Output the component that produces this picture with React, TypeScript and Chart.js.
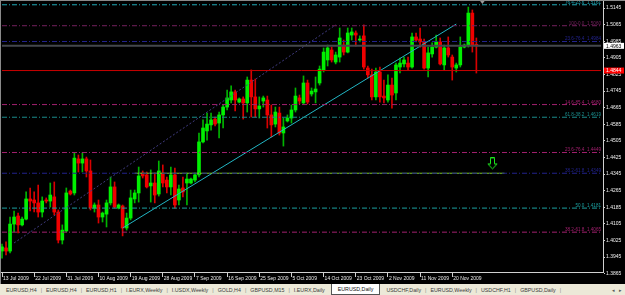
import React, { useEffect, useRef } from 'react';
import { Chart, registerables } from 'chart.js';

Chart.register(...registerables);

// ---------- data ----------
const startDate = '2009-07-13';
const slotCount = 150; // bars + empty space to the right (chart shift)

const opens = [
  1.3974, 1.3989, 1.3974, 1.4104, 1.4143, 1.4100, 1.4128, 1.4225, 1.4220, 1.4206,
  1.4162, 1.4220, 1.4215, 1.4235, 1.4162, 1.4027, 1.4071, 1.4263, 1.4254, 1.4418,
  1.4398, 1.4418, 1.4360, 1.4181, 1.4196, 1.4138, 1.4152, 1.4206, 1.4283, 1.4181,
  1.4191, 1.4085, 1.4133, 1.4225, 1.4254, 1.4350, 1.4341, 1.4288, 1.4302, 1.4249,
  1.4350, 1.4316, 1.4283, 1.4341, 1.4220, 1.4278, 1.4302, 1.4302, 1.4316, 1.4341,
  1.4500, 1.4553, 1.4582, 1.4610, 1.4591, 1.4630, 1.4668, 1.4702, 1.4741, 1.4692,
  1.4707, 1.4688, 1.4798, 1.4717, 1.4659, 1.4697, 1.4702, 1.4630, 1.4586, 1.4639,
  1.4543, 1.4601, 1.4615, 1.4654, 1.4712, 1.4688, 1.4784, 1.4731, 1.4741, 1.4784,
  1.4847, 1.4895, 1.4943, 1.4885, 1.4909, 1.4967, 1.4933, 1.5015, 1.5025, 1.4991,
  1.5011, 1.4856, 1.4823, 1.4717, 1.4837, 1.4721, 1.4702, 1.4774, 1.4736, 1.4861,
  1.4876, 1.4880, 1.4861, 1.5006, 1.4996, 1.4982, 1.4856, 1.4924, 1.4957, 1.4982,
  1.4871, 1.4953, 1.4909, 1.4856, 1.4871, 1.4957, 1.4967, 1.5121, 1.4970,
];
const highs = [
  1.4008, 1.4018, 1.4138, 1.4167, 1.4157, 1.4138, 1.4259, 1.4278, 1.4259, 1.4292,
  1.4235, 1.4230, 1.4302, 1.4307, 1.4172, 1.4100, 1.4278, 1.4268, 1.4447, 1.4437,
  1.4447, 1.4427, 1.4413, 1.4206, 1.4220, 1.4162, 1.4220, 1.4331, 1.4307, 1.4201,
  1.4196, 1.4157, 1.4268, 1.4268, 1.4379, 1.4360, 1.4355, 1.4365, 1.4350, 1.4408,
  1.4389, 1.4331, 1.4379, 1.4374, 1.4292, 1.4331, 1.4350, 1.4326, 1.4350, 1.4543,
  1.4606, 1.4639, 1.4639, 1.4620, 1.4644, 1.4678, 1.4750, 1.4770, 1.4750, 1.4712,
  1.4717, 1.4813, 1.4847, 1.4803, 1.4717, 1.4721, 1.4721, 1.4678, 1.4668, 1.4668,
  1.4615, 1.4630, 1.4678, 1.4760, 1.4726, 1.4818, 1.4798, 1.4760, 1.4813, 1.4866,
  1.4953, 1.4967, 1.4957, 1.4933, 1.5049, 1.4991, 1.5049, 1.5049, 1.5035, 1.5011,
  1.5064, 1.4866, 1.4851, 1.4856, 1.4861, 1.4798, 1.4823, 1.4808, 1.4880, 1.4904,
  1.4909, 1.4909, 1.5025, 1.5025, 1.5049, 1.4996, 1.4957, 1.4977, 1.5015, 1.5001,
  1.4967, 1.5006, 1.4919, 1.4880, 1.5006, 1.4972, 1.5150, 1.5136, 1.5001,
];
const lows = [
  1.3940, 1.3955, 1.3965, 1.4066, 1.4061, 1.4095, 1.4124, 1.4167, 1.4162, 1.4138,
  1.4138, 1.4206, 1.4186, 1.4148, 1.4013, 1.4008, 1.4066, 1.4244, 1.4244, 1.4355,
  1.4355, 1.4331, 1.4172, 1.4162, 1.4109, 1.4114, 1.4090, 1.4196, 1.4181, 1.4177,
  1.4047, 1.4075, 1.4124, 1.4206, 1.4210, 1.4326, 1.4278, 1.4210, 1.4206, 1.4239,
  1.4283, 1.4254, 1.4244, 1.4181, 1.4196, 1.4235, 1.4196, 1.4297, 1.4307, 1.4331,
  1.4495, 1.4509, 1.4557, 1.4577, 1.4519, 1.4567, 1.4654, 1.4688, 1.4649, 1.4688,
  1.4610, 1.4644, 1.4620, 1.4620, 1.4615, 1.4668, 1.4567, 1.4524, 1.4572, 1.4533,
  1.4480, 1.4596, 1.4591, 1.4644, 1.4683, 1.4683, 1.4683, 1.4721, 1.4688, 1.4774,
  1.4837, 1.4866, 1.4885, 1.4876, 1.4885, 1.4919, 1.4929, 1.4991, 1.4962, 1.4982,
  1.4851, 1.4808, 1.4702, 1.4702, 1.4692, 1.4688, 1.4692, 1.4663, 1.4702, 1.4832,
  1.4861, 1.4847, 1.4856, 1.4982, 1.4957, 1.4851, 1.4813, 1.4909, 1.4953, 1.4871,
  1.4847, 1.4909, 1.4798, 1.4837, 1.4861, 1.4953, 1.4957, 1.4933, 1.4832,
];
const closes = [
  1.3994, 1.3974, 1.4104, 1.4138, 1.4100, 1.4128, 1.4225, 1.4215, 1.4206, 1.4162,
  1.4215, 1.4215, 1.4244, 1.4162, 1.4027, 1.4075, 1.4254, 1.4249, 1.4422, 1.4398,
  1.4418, 1.4360, 1.4181, 1.4196, 1.4138, 1.4157, 1.4206, 1.4283, 1.4186, 1.4196,
  1.4085, 1.4133, 1.4230, 1.4254, 1.4336, 1.4336, 1.4283, 1.4302, 1.4244, 1.4360,
  1.4302, 1.4283, 1.4341, 1.4196, 1.4273, 1.4259, 1.4321, 1.4321, 1.4341, 1.4500,
  1.4567, 1.4586, 1.4606, 1.4586, 1.4630, 1.4668, 1.4712, 1.4741, 1.4702, 1.4707,
  1.4688, 1.4798, 1.4717, 1.4659, 1.4673, 1.4712, 1.4630, 1.4582, 1.4644, 1.4543,
  1.4572, 1.4615, 1.4654, 1.4721, 1.4697, 1.4784, 1.4692, 1.4745, 1.4755, 1.4851,
  1.4933, 1.4953, 1.4895, 1.4919, 1.5001, 1.4933, 1.5025, 1.5030, 1.5015, 1.4996,
  1.4861, 1.4823, 1.4717, 1.4837, 1.4717, 1.4712, 1.4774, 1.4726, 1.4871, 1.4880,
  1.4895, 1.4861, 1.5006, 1.4991, 1.4982, 1.4856, 1.4929, 1.4957, 1.4982, 1.4876,
  1.4953, 1.4919, 1.4861, 1.4871, 1.4957, 1.4967, 1.5121, 1.4967, 1.4963,
];

const yTicks = [
  1.5145, 1.5065, 1.4985, 1.4905, 1.4825, 1.4745, 1.4665, 1.4585, 1.4505,
  1.4425, 1.4345, 1.4265, 1.4185, 1.4105, 1.4025, 1.3945, 1.3865,
];

const fibValues = [1.5161, 1.5060, 1.4984, 1.4680, 1.4619, 1.4449, 1.4349, 1.4181, 1.4065];
const fibLabels = [
  '76.4-23.6  1.5161', '100-0.0  1.5060', '23.6-76.4  1.4984', '14.6-85.4  1.4680',
  '61.8-38.2  1.4619', '23.6-76.4  1.4449', '38.2-61.8  1.4349', '50.0  1.4181', '38.2-61.8  1.4065',
];
const fibColors = ['#1ea8b6', '#74205e', '#23238e', '#a3206f', '#1b8e8e', '#a3206f', '#23238e', '#1ba0a0', '#a3206f'];

const bidPrice = 1.4963;
const alertPrice = 1.4844;
const supportLevel = { value: 1.4349, fromBar: 33, toBar: 125 };
const channelLine = { fromBar: 3, fromPrice: 1.4013, toBar: 83, toPrice: 1.5064 };
const trendLine = { fromBar: 30, fromPrice: 1.4085, toBar: 113, toPrice: 1.5068 };
const arrowMark = { bar: 122, price: 1.4394 };
const shiftMarkerBar = 119;

const tabNames = [
  'EURUSD,H4', 'EURUSD,H4', 'EURUSD,H1', 'I.EURX,Weekly', 'I.USDX,Weekly', 'GOLD,H4',
  'GBPUSD,M15', 'I.EURX,Daily', 'EURUSD,Daily', 'USDCHF,Daily', 'EURUSD,Weekly', 'USDCHF,H1', 'GBPUSD,Daily',
];
const activeTab = 8;

// ---------- helpers ----------
const monthNames = ['Jan', 'Feb', 'Mar', 'Apr', 'May', 'Jun', 'Jul', 'Aug', 'Sep', 'Oct', 'Nov', 'Dec'];
function buildDates(start: string, count: number): string[] {
  const out: string[] = [];
  const d = new Date(start + 'T00:00:00Z');
  while (out.length < count) {
    if (d.getUTCDay() !== 6) out.push(`${d.getUTCDate()} ${monthNames[d.getUTCMonth()]} ${d.getUTCFullYear()}`);
    d.setUTCDate(d.getUTCDate() + 1);
  }
  return out;
}

const FONT = '"Liberation Sans Narrow", "Liberation Sans", Arial, sans-serif';

function makeArrow(): HTMLCanvasElement {
  const c = document.createElement('canvas');
  c.width = 11;
  c.height = 13;
  const g = c.getContext('2d')!;
  g.strokeStyle = '#1ee61e';
  g.lineWidth = 1;
  g.beginPath();
  g.moveTo(3.5, 0.5);
  g.lineTo(7.5, 0.5);
  g.lineTo(7.5, 6.5);
  g.lineTo(10, 6.5);
  g.lineTo(5.5, 11.5);
  g.lineTo(1, 6.5);
  g.lineTo(3.5, 6.5);
  g.closePath();
  g.stroke();
  return c;
}

const mt4Plugin = {
  id: 'mt4Decor',
  beforeDraw(chart: any) {
    const { ctx, width, height } = chart;
    ctx.save();
    ctx.fillStyle = '#000000';
    ctx.fillRect(0, 0, width, height);
    ctx.restore();
  },
  afterDraw(chart: any) {
    const { ctx, chartArea } = chart;
    const ys = chart.scales.y;
    const xs = chart.scales.x;
    ctx.save();
    ctx.font = `4.6px ${FONT}`;
    ctx.textAlign = 'right';
    ctx.textBaseline = 'alphabetic';
    fibValues.forEach((v, i) => {
      ctx.fillStyle = fibColors[i];
      ctx.fillText(fibLabels[i], chartArea.right - 2, ys.getPixelForValue(v) - 1);
    });
    const box = (v: number, bg: string, fg: string) => {
      const py = ys.getPixelForValue(v);
      ctx.fillStyle = bg;
      ctx.fillRect(chartArea.right + 1, py - 3, 20, 6);
      ctx.fillStyle = fg;
      ctx.font = `5px ${FONT}`;
      ctx.textAlign = 'left';
      ctx.textBaseline = 'middle';
      ctx.fillText(v.toFixed(4), chartArea.right + 3, py + 0.3);
    };
    box(bidPrice, '#ffffff', '#000000');
    box(alertPrice, '#ff0000', '#ffffff');
    // chart shift marker
    const mx = xs.getPixelForValue(shiftMarkerBar) + 2;
    ctx.fillStyle = '#9a9a9a';
    ctx.beginPath();
    ctx.moveTo(mx - 3, 0);
    ctx.lineTo(mx + 3, 0);
    ctx.lineTo(mx, 4);
    ctx.closePath();
    ctx.fill();
    ctx.fillStyle = '#8a8a8a';
    ctx.fillRect(0, 0, chart.width, 1);
    ctx.fillRect(0, 0, 1, chart.height);
    ctx.restore();
  },
};

export default function App() {
  const ref = useRef<HTMLCanvasElement>(null);

  useEffect(() => {
    document.body.style.margin = '0';
    const labels = buildDates(startDate, slotCount);
    const nBars = opens.length;
    const bull = (i: number) => closes[i] >= opens[i];

    const hLine = (v: number, color: string, dash: number[], width: number, from = 0, to = slotCount - 1) => ({
      type: 'line' as const,
      data: [{ x: labels[from], y: v }, { x: labels[to], y: v }],
      borderColor: color,
      borderWidth: width,
      borderDash: dash,
      pointRadius: 0,
      fill: false,
      order: 1,
    });
    const dashDot = [5, 2, 1, 2];

    const datasets: any[] = [
      {
        type: 'bar',
        data: lows.map((l, i) => [l, highs[i]]),
        backgroundColor: opens.map((_, i) => (bull(i) ? '#00b400' : '#d80000')),
        barThickness: 1,
        grouped: false,
        borderWidth: 0,
        order: 4,
      },
      {
        type: 'bar',
        data: opens.map((o, i) => [o, closes[i]]),
        backgroundColor: opens.map((_, i) => (bull(i) ? '#00f000' : '#f00000')),
        barThickness: 3,
        minBarLength: 1,
        grouped: false,
        borderWidth: 0,
        order: 3,
      },
      ...fibValues.map((v, i) => hLine(v, fibColors[i], dashDot, 1)),
      hLine(bidPrice, '#44474c', [], 2),
      hLine(alertPrice, '#c80000', [], 1),
      hLine(supportLevel.value, '#7ccc22', [], 1, supportLevel.fromBar, supportLevel.toBar),
      {
        type: 'line',
        data: [
          { x: labels[channelLine.fromBar], y: channelLine.fromPrice },
          { x: labels[channelLine.toBar], y: channelLine.toPrice },
        ],
        borderColor: '#403c80',
        borderWidth: 1,
        borderDash: [2, 2],
        pointRadius: 0,
        order: 1,
      },
      {
        type: 'line',
        data: [
          { x: labels[trendLine.fromBar], y: trendLine.fromPrice },
          { x: labels[trendLine.toBar], y: trendLine.toPrice },
        ],
        borderColor: '#22b6c4',
        borderWidth: 1,
        pointRadius: 0,
        order: 1,
      },
      {
        type: 'line',
        data: [{ x: labels[arrowMark.bar], y: arrowMark.price }],
        showLine: false,
        pointStyle: makeArrow(),
        pointRadius: 6,
        order: 0,
      },
    ];

    const chart = new Chart(ref.current!, {
      type: 'bar',
      data: { labels, datasets },
      plugins: [mt4Plugin],
      options: {
        animation: false,
        responsive: false,
        events: [],
        layout: { padding: 0, autoPadding: false },
        plugins: { legend: { display: false }, tooltip: { enabled: false } },
        scales: {
          x: {
            type: 'category',
            offset: true,
            afterFit: (s: any) => {
              s.height = 12;
              s.paddingLeft = 0;
              s.paddingRight = 0;
            },
            grid: {
              display: true,
              drawOnChartArea: false,
              offset: false,
              tickLength: 5,
              tickColor: (c: any) => (c.index % 8 === 0 && c.index < nBars ? '#d0d0d0' : 'rgba(0,0,0,0)'),
            },
            border: { display: true, color: '#d0d0d0' },
            ticks: {
              autoSkip: false,
              maxRotation: 0,
              minRotation: 0,
              align: 'start',
              labelOffset: 1,
              padding: -1,
              color: '#e8e8e8',
              font: { size: 5, family: FONT },
              callback: (_v: any, i: number) => (i % 8 === 0 && i < nBars ? labels[i] : ''),
            },
          },
          y: {
            type: 'linear',
            position: 'right',
            min: 1.3873,
            max: 1.5184,
            afterBuildTicks: (s: any) => {
              s.ticks = yTicks.map((v) => ({ value: v }));
            },
            afterFit: (s: any) => {
              s.width = 22;
              s.paddingTop = 0;
              s.paddingBottom = 0;
            },
            grid: { drawOnChartArea: false, tickLength: 2, tickColor: '#d0d0d0' },
            border: { display: true, color: '#d0d0d0' },
            ticks: {
              color: '#f0f0f0',
              padding: 1,
              font: { size: 5, family: FONT },
              callback: (v: any) => Number(v).toFixed(4),
            },
          },
        },
      } as any,
    });
    return () => chart.destroy();
  }, []);

  return (
    <div style={{ width: 625, height: 295, overflow: 'hidden', background: '#000' }}>
      <canvas ref={ref} width={625} height={284} style={{ display: 'block' }} />
      <div
        style={{
          position: 'relative',
          height: 11,
          background: '#ece9d8',
          display: 'flex',
          alignItems: 'center',
          paddingLeft: 3,
          fontFamily: '"Liberation Sans", Arial, sans-serif',
          fontSize: 5.3,
          color: '#3a3a3a',
          whiteSpace: 'nowrap',
          overflow: 'hidden',
        }}
      >
        {tabNames.map((name, i) => {
          const active = i === activeTab;
          const showSep = i < tabNames.length - 1 && i !== activeTab && i + 1 !== activeTab;
          return (
            <React.Fragment key={i}>
              <span
                style={
                  active
                    ? {
                        background: '#ffffff',
                        height: 11,
                        display: 'flex',
                        alignItems: 'center',
                        padding: '0 6px',
                        borderLeft: '1px solid #555',
                        borderRight: '1px solid #555',
                        borderBottom: '1px solid #555',
                        boxSizing: 'border-box',
                        color: '#111',
                        margin: '0 3px',
                      }
                    : { padding: '0 3px' }
                }
              >
                {name}
              </span>
              {showSep && <span style={{ color: '#8a8a8a', padding: '0 1px' }}>|</span>}
            </React.Fragment>
          );
        })}
        <span style={{ color: '#8a8a8a', padding: '0 1px' }}>|</span>
        <span style={{ position: 'absolute', right: 3, color: '#555' }}>◂&nbsp;&nbsp;&nbsp;▸</span>
      </div>
    </div>
  );
}
